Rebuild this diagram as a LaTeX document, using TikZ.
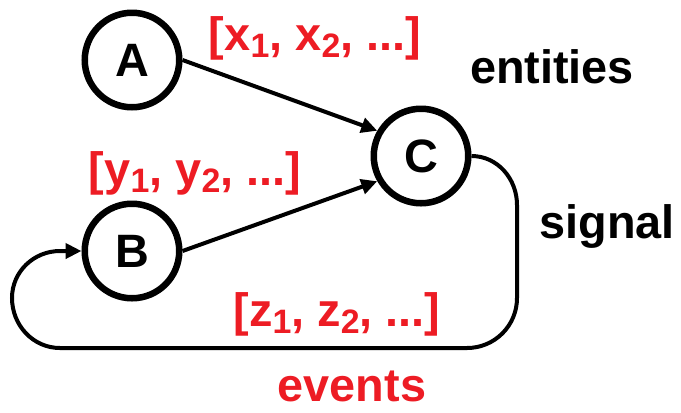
\documentclass[tikz,border=0pt]{standalone}
\usepackage{fontspec}
\setmainfont{Liberation Sans}
\usetikzlibrary{arrows.meta}
\definecolor{labred}{RGB}{237,28,36}
\newcommand{\mysub}[1]{\raisebox{-7bp}{\fontsize{34}{34}\selectfont #1}}
\begin{document}
\begin{tikzpicture}[x=1bp,y=-1bp,
  every node/.style={font=\fontsize{47}{50}\selectfont\bfseries},
  circ/.style={circle,draw,line width=6.5bp,minimum size=94.5bp,inner sep=0pt},
  conn/.style={line width=4bp,-{Triangle[length=16bp,width=15bp]}},
  redlab/.style={text=labred,anchor=base,inner sep=0pt},
  blklab/.style={text=black,anchor=base,inner sep=0pt}]
\useasboundingbox (0,0) rectangle (681,412);
\node[circ] (A) at (132,60) {A};
\node[circ] (B) at (132,251) {B};
\node[circ] (C) at (421,156) {C};
\draw[conn] (A.east) -- (C.150);
\draw[conn] (B.east) -- (C.210);
\draw[conn] (C.east) to[out=0,in=90] (517,205) -- (517,298)
  to[out=-90,in=0] (467,348) -- (60,348)
  to[out=180,in=-90] (12,298) to[out=90,in=180] (60,251) -- (B.west);
\node[redlab] (xl) at (315,50) {[x\mysub{1}, x\mysub{2}, ...]};
\node[blklab] (ent) at (552,83) {entities};
\node[redlab] (yl) at (195,185) {[y\mysub{1}, y\mysub{2}, ...]};
\node[blklab] (sig) at (607,238) {signal};
\node[redlab] (zl) at (337,326) {[z\mysub{1}, z\mysub{2}, ...]};
\node[redlab] (ev) at (352,401) {events};
\end{tikzpicture}
\end{document}
